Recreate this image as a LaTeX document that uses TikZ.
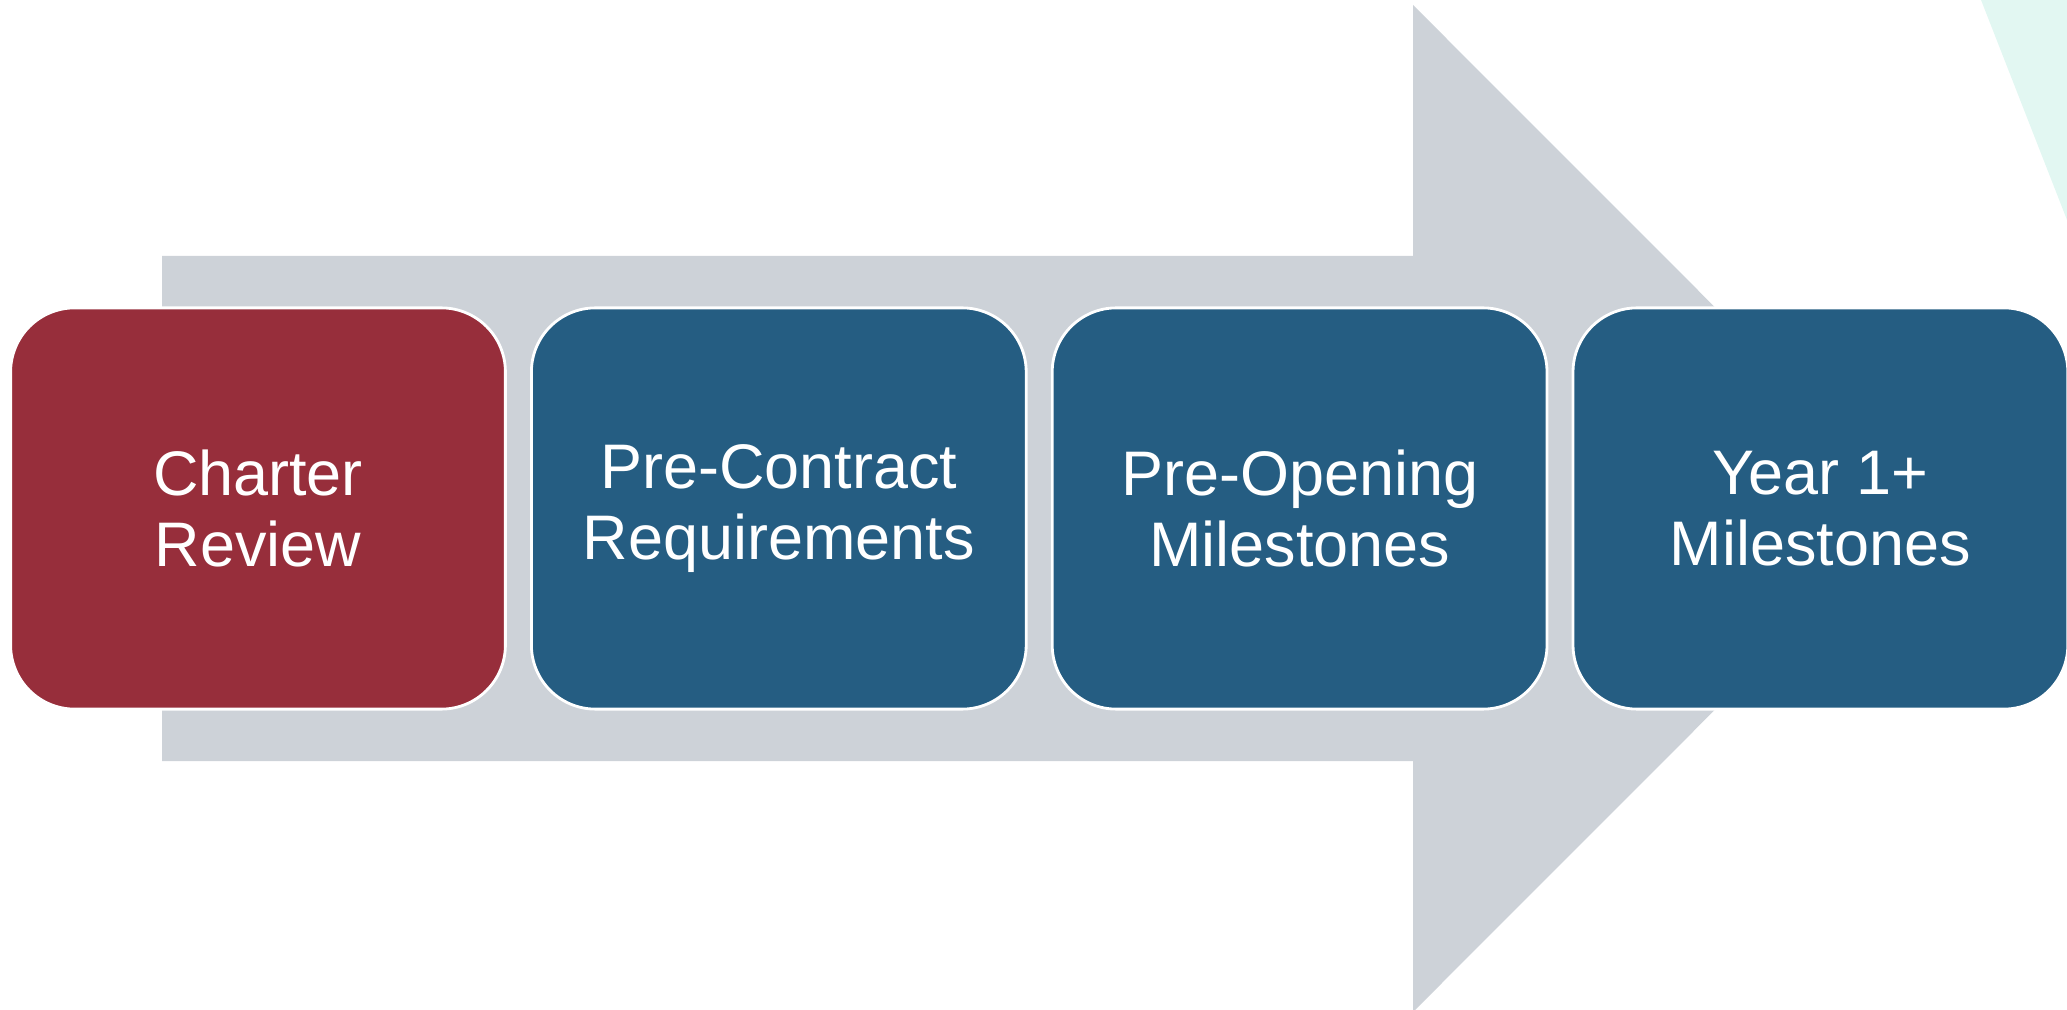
\documentclass[tikz,border=0pt]{standalone}
\usepackage{fontspec}
\setmainfont{Liberation Sans}
\usetikzlibrary{positioning}

\begin{document}
\begin{tikzpicture}[x=0.01cm,y=-0.01cm]
\definecolor{arrow area}{HTML}{CDD2D8}
\definecolor{charter red}{HTML}{972E3B}
\definecolor{phase blue}{HTML}{255D82}
\definecolor{corner mint}{HTML}{E2F7F2}
\tikzset{
     phase/.style={rectangle, rounded corners=0.64cm, draw=white, line width=0.8pt,
       fill=phase blue, text=white, minimum width=4.945cm, minimum height=4.01cm,
       outer sep=0pt, inner sep=0pt, align=center, font=\fontsize{17.9}{20.2}\selectfont},
     current/.style={phase, fill=charter red}}

\useasboundingbox (0,0) rectangle (2067,1010);
\clip (0,0) rectangle (2067,1010);

% The arrow
\fill [arrow area] (162,256) -- (1413,256) -- (1413,5) -- (1916,508.5)
   -- (1413,1012) -- (1413,761) -- (162,761) -- cycle;

% The corner
\fill [corner mint] (1981,0) -- (2110,330) -- (2110,0) -- cycle;

% The boxes
\node (charter) [current] at (258,508.5) {Charter\\Review};
\node (precontract) [phase, right=0.26cm of charter] {Pre-Contract\\Requirements};
\node (preopening) [phase, right=0.26cm of precontract] {Pre-Opening\\Milestones};
\node (yearone) [phase, right=0.26cm of preopening] {Year 1+\\Milestones};
\end{tikzpicture}
\end{document}
